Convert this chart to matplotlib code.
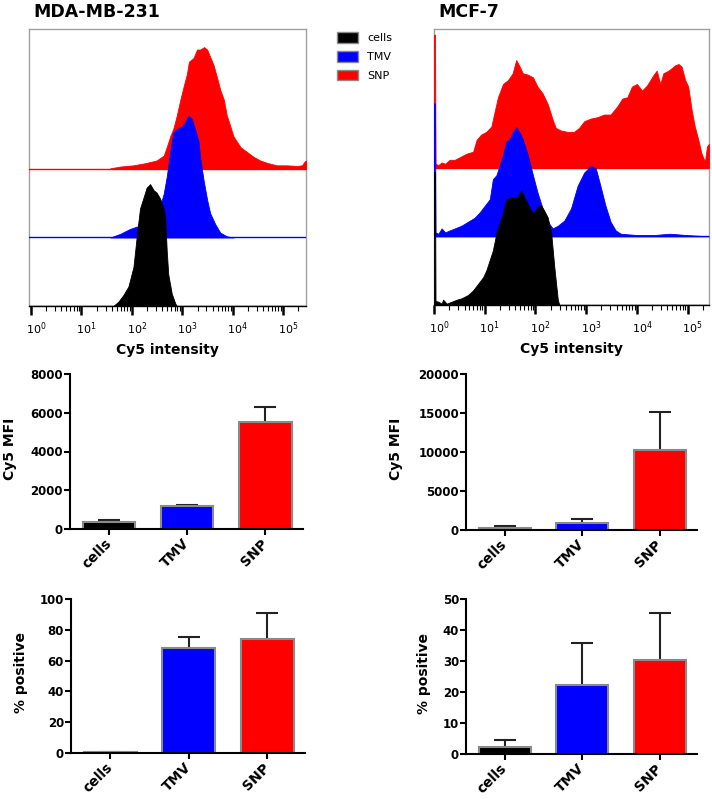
import matplotlib.pyplot as plt
import numpy as np
from matplotlib.patches import Patch
from matplotlib.ticker import FixedLocator, LogLocator, NullFormatter
from matplotlib.transforms import ScaledTranslation

plt.rcParams['font.family'] = 'DejaVu Sans'
plt.rcParams['mathtext.fontset'] = 'dejavusans'

groups = ['cells', 'TMV', 'SNP']
colors = ['black', 'blue', 'red']

# --- flow histograms: log10(Cy5 intensity) and % of mode ---
mda_cells_dec = [1.63, 1.73, 1.83, 1.93, 2.03, 2.10, 2.16, 2.23, 2.29, 2.36, 2.43,
                 2.49, 2.56, 2.63, 2.66, 2.69, 2.72, 2.79, 2.86, 2.89]
mda_cells_pct = [0, 3.5, 9, 16, 32, 59, 80, 89, 97, 100, 95, 93, 88, 80, 72, 45, 26, 10, 2, 0]

mda_tmv_dec = [1.57, 1.77, 1.96, 2.10, 2.23, 2.43, 2.56, 2.63, 2.69, 2.76, 2.82, 2.89, 2.99,
               3.06, 3.12, 3.19, 3.25, 3.32, 3.35, 3.42, 3.49, 3.55, 3.65, 3.75, 3.88, 4.01]
mda_tmv_pct = [0, 3, 7, 9, 11, 13, 26, 36, 50, 71, 86, 89, 91, 95, 100, 97, 89, 79, 66, 47,
               31, 20, 11, 4, 1, 0]

mda_snp_dec = [1.57, 1.77, 2.03, 2.29, 2.49, 2.63, 2.69, 2.76, 2.82, 2.89, 2.96, 3.02, 3.09,
               3.13, 3.22, 3.29, 3.35, 3.43, 3.49, 3.55, 3.62, 3.68, 3.75, 3.82, 3.88, 3.95,
               4.01, 4.15, 4.28, 4.41, 4.54, 4.68, 4.87, 5.07, 5.27, 5.37, 5.42, 5.45]
mda_snp_pct = [0.5, 2, 3, 5, 7, 11, 18, 27, 33, 44, 57, 67, 78, 88, 91, 98, 98, 100, 98, 92,
               85, 76, 65, 57, 44, 35, 27, 18, 14, 10, 7, 5, 3, 3, 2.5, 3, 6, 7]

mcf_cells_dec = [0.0, 0.02, 0.03, 0.086, 0.15, 0.18, 0.25, 0.35, 0.45, 0.54, 0.67, 0.77, 0.87,
                 0.97, 1.03, 1.10, 1.16, 1.23, 1.29, 1.36, 1.42, 1.52, 1.59, 1.65, 1.72,
                 1.78, 1.85, 1.91, 1.98, 2.04, 2.11, 2.17, 2.24, 2.31, 2.37, 2.44, 2.47]
mcf_cells_pct = [100, 100, 3, 2.5, 1, 4, 1, 2.5, 4, 5, 7.5, 11, 16, 21, 26, 34, 41, 54, 61, 69,
                 79, 81, 81, 81, 86, 81, 76, 71, 69, 74, 75, 71, 66, 54, 29, 4, 0]

mcf_tmv_dec = [0.0, 0.02, 0.03, 0.086, 0.15, 0.22, 0.31, 0.41, 0.54, 0.67, 0.80, 0.90, 1.00,
               1.10, 1.16, 1.23, 1.29, 1.36, 1.42, 1.49, 1.55, 1.62, 1.69, 1.75, 1.85,
               1.95, 2.04, 2.14, 2.24, 2.34, 2.44, 2.57, 2.70, 2.83, 2.96, 3.09, 3.19,
               3.28, 3.38, 3.48, 3.58, 3.68, 4.00, 4.33, 4.65, 4.98, 5.42]
mcf_tmv_pct = [100, 100, 3, 2, 6, 3, 4.5, 6, 8, 11, 14, 18, 23, 28, 43, 46, 53, 61, 71, 73, 78,
               82, 78, 73, 61, 46, 33, 21, 11, 6, 8, 12, 21, 38, 48, 53, 51, 38, 23, 11,
               4.5, 2, 1, 1, 2, 1, 0]

mcf_snp_dec = [0.0, 0.02, 0.03, 0.086, 0.15, 0.22, 0.31, 0.41, 0.51, 0.61, 0.67, 0.77, 0.84,
               0.93, 1.03, 1.13, 1.20, 1.26, 1.36, 1.46, 1.55, 1.62, 1.69, 1.75, 1.85,
               1.95, 2.04, 2.14, 2.24, 2.34, 2.40, 2.50, 2.63, 2.76, 2.86, 2.96, 3.09,
               3.22, 3.35, 3.48, 3.61, 3.71, 3.81, 3.90, 4.00, 4.10, 4.20, 4.33, 4.39,
               4.46, 4.52, 4.62, 4.69, 4.75, 4.82, 4.88, 4.95, 5.01, 5.08, 5.14, 5.21,
               5.27, 5.34, 5.38, 5.42]
mcf_snp_pct = [100, 100, 3, 2, 4, 3, 6, 6, 8, 10, 11, 12, 21, 25, 27, 31, 43, 53, 63, 66, 71,
               81, 76, 71, 70, 68, 61, 56, 48, 36, 30, 28, 27, 27, 30, 35, 37, 38, 40, 40,
               46, 52, 53, 61, 63, 58, 62, 70, 73, 63, 71, 73, 75, 77, 78, 76, 66, 61, 43,
               31, 21, 11, 4.5, 16, 18]

# --- bar charts ---
mfi_mda = [350, 1170, 5520]
mfi_mda_err = [100, 50, 760]
mfi_mcf = [300, 860, 10240]
mfi_mcf_err = [150, 550, 4880]
pos_mda = [0.5, 68.2, 74.1]
pos_mda_err = [0.3, 7.0, 16.5]
pos_mcf = [2.2, 22.3, 30.3]
pos_mcf_err = [2.4, 13.4, 15.1]

W, H = 712, 799
fig = plt.figure(figsize=(W / 100, H / 100), dpi=100)


def px_axes(x0, y0, x1, y1):
    return fig.add_axes([x0 / W, 1 - y1 / H, (x1 - x0) / W, (y1 - y0) / H])


def draw_hist(ax, curves, peak, track, xlim):
    # curves ordered cells, TMV, SNP; lower tracks are drawn in front
    for i, (dec, pct) in enumerate(curves):
        base = track * i
        x = 10 ** np.asarray(dec)
        y = base + np.asarray(pct) / 100 * peak
        ax.axhline(base, color=colors[i], lw=1, zorder=5 - i)
        ax.fill_between(x, base, y, color=colors[i], lw=0.6, zorder=5 - i)
    ax.set_xscale('log')
    ax.set_xlim(10 ** xlim[0], 10 ** xlim[1])
    ax.set_ylim(0, 1)
    ax.set_yticks([])
    for s in ax.spines.values():
        s.set_color('#a0a0a0')
        s.set_linewidth(1)
    ax.spines['bottom'].set_color('black')
    ax.xaxis.set_major_locator(FixedLocator([10.0 ** k for k in range(6)]))
    ax.xaxis.set_minor_locator(LogLocator(base=10, subs=np.arange(2, 10), numticks=20))
    ax.xaxis.set_minor_formatter(NullFormatter())
    ax.set_xticklabels([f'$10^{{{k}}}$' for k in range(6)])
    ax.tick_params(axis='x', which='major', direction='out', length=6.5, width=1.8,
                   labelsize=8, pad=4)
    ax.tick_params(axis='x', which='minor', direction='out', length=3.5, width=0.8)
    shift = ScaledTranslation(5 / 100, 0, fig.dpi_scale_trans)
    for lab in ax.get_xticklabels():
        lab.set_transform(lab.get_transform() + shift)
    ax.set_xlabel('Cy5 intensity', fontsize=10, weight='bold', labelpad=4)


def draw_bars(ax, vals, errs, top, step, ylabel, label_x):
    pos = np.arange(3)
    ax.bar(pos, vals, width=0.67, color=colors, edgecolor='#8a8a8a', lw=1.5, zorder=2)
    _, caps, _ = ax.errorbar(pos, vals, yerr=[np.zeros(3), errs], fmt='none',
                             ecolor='#222222', elinewidth=1.5, capsize=8, capthick=1.5,
                             zorder=1)
    caps[0].set_visible(False)  # no cap at the bar top
    ax.set_xlim(-0.5, 2.48)
    ax.set_ylim(0, top)
    ax.set_yticks(np.arange(0, top + 1, step))
    ax.set_xticks(pos)
    ax.set_xticklabels(groups, rotation=45, ha='right', va='center',
                       rotation_mode='anchor', fontsize=10, weight='bold')
    for lab in ax.get_yticklabels():
        lab.set_fontweight('bold')
    ax.tick_params(axis='y', labelsize=8.5, length=4, width=1.5, pad=1)
    ax.tick_params(axis='x', length=4, width=1.5, pad=5)
    for s in ['top', 'right']:
        ax.spines[s].set_visible(False)
    for s in ['left', 'bottom']:
        ax.spines[s].set_linewidth(1.5)
    ax.set_ylabel(ylabel, fontsize=10, weight='bold')
    ax.yaxis.set_label_coords(label_x, 0.52)


ax1 = px_axes(29, 29, 306, 306)
draw_hist(ax1, [(mda_cells_dec, mda_cells_pct), (mda_tmv_dec, mda_tmv_pct),
                (mda_snp_dec, mda_snp_pct)], peak=0.44, track=0.2473, xlim=(-0.04, 5.45))

ax2 = px_axes(434, 29, 709, 305)
draw_hist(ax2, [(mcf_cells_dec, mcf_cells_pct), (mcf_tmv_dec, mcf_tmv_pct),
                (mcf_snp_dec, mcf_snp_pct)], peak=0.482, track=0.2486, xlim=(0.0, 5.42))

fig.text(33 / W, 1 - 12 / H, 'MDA-MB-231', fontsize=12.5, weight='bold', va='center')
fig.text(438 / W, 1 - 12 / H, 'MCF-7', fontsize=12.5, weight='bold', va='center')

handles = [Patch(facecolor=c, edgecolor='#8a8a8a', label=g) for c, g in zip(colors, groups)]
fig.legend(handles=handles, loc='upper left', bbox_to_anchor=(337 / W, 1 - 32 / H),
           frameon=False, fontsize=8, handlelength=1.9, handleheight=1.1,
           labelspacing=0.7, handletextpad=0.8, borderpad=0, borderaxespad=0)

ax3 = px_axes(70, 374, 303, 529)
draw_bars(ax3, mfi_mda, mfi_mda_err, 8000, 2000, 'Cy5 MFI', -0.227)

ax4 = px_axes(466, 374, 697, 530)
draw_bars(ax4, mfi_mcf, mfi_mcf_err, 20000, 5000, 'Cy5 MFI', -0.273)

ax5 = px_axes(71, 599, 305, 753)
draw_bars(ax5, pos_mda, pos_mda_err, 100, 20, '% positive', -0.184)

ax6 = px_axes(466, 599, 697, 754)
draw_bars(ax6, pos_mcf, pos_mcf_err, 50, 10, '% positive', -0.152)

fig.savefig('out.png', dpi=100)
